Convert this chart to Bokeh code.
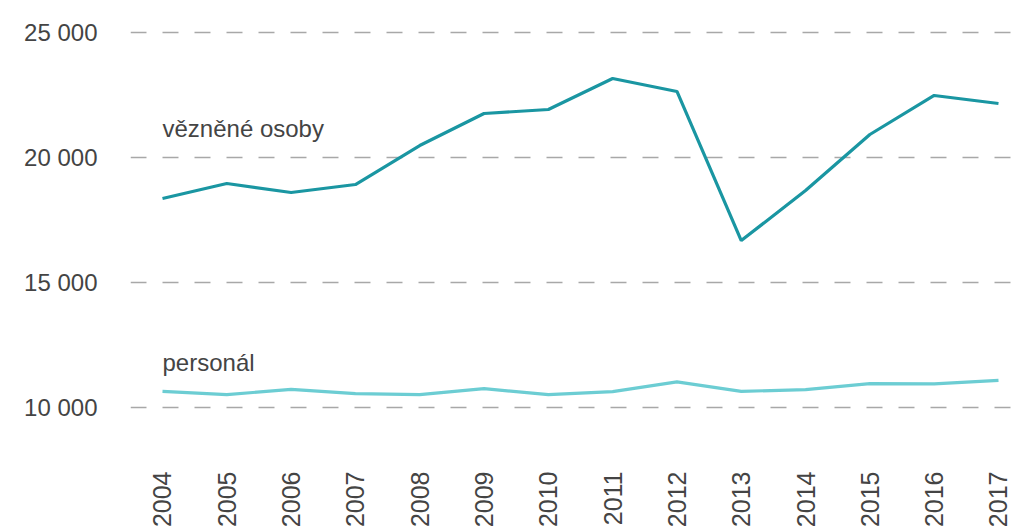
import math
from bokeh.plotting import figure
from bokeh.models import Range1d, FixedTicker, CustomJSTickFormatter, Label
from bokeh.embed import file_html
from bokeh.resources import INLINE

years = list(range(2004, 2018))
vezni = [18360, 18960, 18600, 18920, 20480, 21760, 21920, 23160, 22640, 16680, 18680, 20920, 22480, 22160]
personal = [10650, 10520, 10730, 10560, 10520, 10760, 10520, 10640, 11030, 10650, 10720, 10960, 10950, 11090]
y_ticks = [10000, 15000, 20000, 25000]

FONT = "Liberation Sans"
TXT = "#444444"

W, H = 1014, 530
p = figure(width=W, height=H, output_backend="svg", toolbar_location=None,
           x_range=Range1d(2003.5024, 2017.249), y_range=Range1d(8086, 25878),
           min_border_left=130, min_border_right=0, min_border_top=10, min_border_bottom=0)
p.outline_line_color = None
p.background_fill_color = "white"
p.border_fill_color = "white"

p.xgrid.grid_line_color = None
p.ygrid.grid_line_color = "#a8a8a8"
p.ygrid.grid_line_width = 1.5
p.ygrid.grid_line_dash = "16 16"

p.yaxis.ticker = FixedTicker(ticks=y_ticks)
p.yaxis.formatter = CustomJSTickFormatter(code="return tick.toFixed(0).replace(/\\B(?=(\\d{3})+(?!\\d))/g, ' ');")
p.yaxis.axis_line_color = None
p.yaxis.major_tick_line_color = None
p.yaxis.minor_tick_line_color = None
p.yaxis.major_label_standoff = 27
p.yaxis.major_label_text_font = FONT
p.yaxis.major_label_text_font_size = "24px"
p.yaxis.major_label_text_color = TXT

p.xaxis.ticker = FixedTicker(ticks=years)
p.xaxis.axis_line_color = None
p.xaxis.major_tick_line_color = None
p.xaxis.minor_tick_line_color = None
p.xaxis.major_label_orientation = math.pi / 2
p.xaxis.major_label_standoff = 10
p.xaxis.major_label_text_font = FONT
p.xaxis.major_label_text_font_size = "25px"
p.xaxis.major_label_text_color = TXT

p.line(years, vezni, line_color="#1a96a2", line_width=3.2)
p.line(years, personal, line_color="#6ccdd3", line_width=3.2)

p.add_layout(Label(x=years[0], y=vezni[0], text="vězněné osoby", x_offset=0, y_offset=70,
                   text_baseline="alphabetic",
                   text_font=FONT, text_font_size="24px", text_color=TXT))
p.add_layout(Label(x=years[0], y=personal[0], text="personál", x_offset=0, y_offset=29,
                   text_baseline="alphabetic",
                   text_font=FONT, text_font_size="24px", text_color=TXT))

open("out.html", "w").write(file_html(p, INLINE))
